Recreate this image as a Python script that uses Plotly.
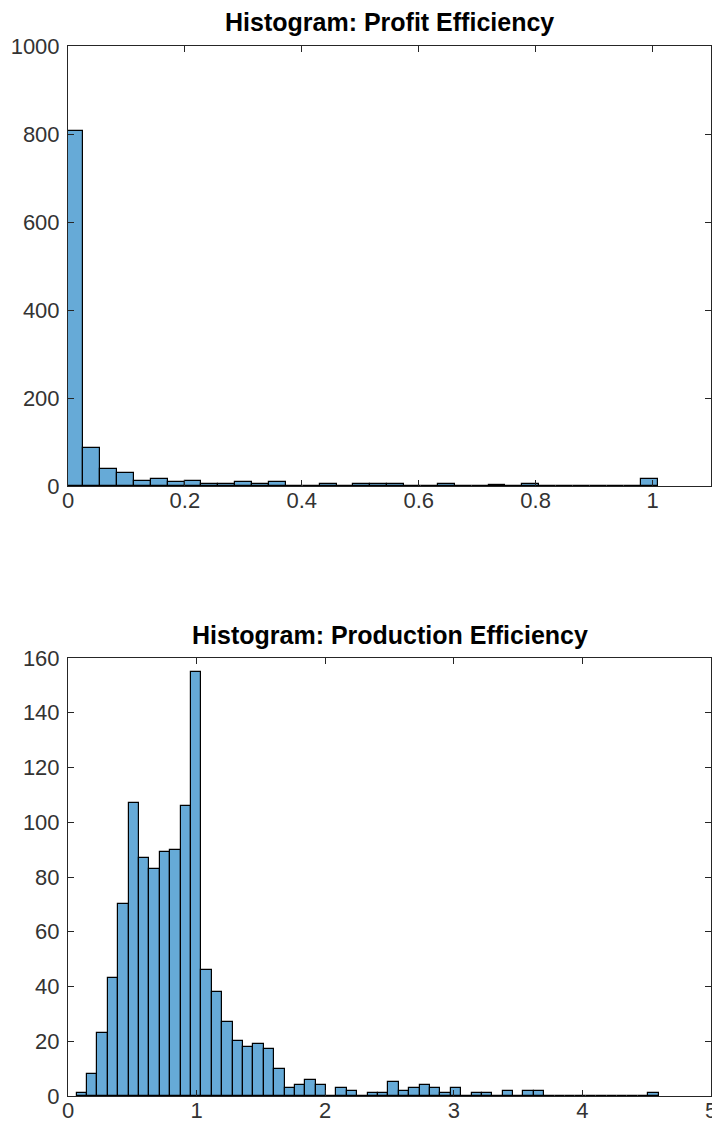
import plotly.graph_objects as go

# ---- data ----
profit_title = "Histogram: Profit Efficiency"
profit_bin_start = -0.003
profit_bin_width = 0.0289
profit_counts = [807, 87, 39, 30, 12, 16, 8, 11, 5, 4, 8, 4, 8, 1, 0, 4, 0, 4,
                 4, 4, 0, 0, 4, 0, 0, 3, 0, 4, 0, 0, 0, 0, 0, 0, 17]
profit_xticks = [0, 0.2, 0.4, 0.6, 0.8, 1]
profit_xticklabels = ["0", "0.2", "0.4", "0.6", "0.8", "1"]
profit_yticks = [0, 200, 400, 600, 800, 1000]

prod_title = "Histogram: Production Efficiency"
prod_bin_start = 0.0675
prod_bin_width = 0.0808
prod_counts = [1, 8, 23, 43, 70, 107, 87, 83, 89, 90, 106, 155, 46, 38, 27, 20,
               18, 19, 17, 10, 3, 4, 6, 4, 0, 3, 2, 0, 1, 1, 5, 2, 3, 4, 3, 1,
               3, 0, 1, 1, 0, 2, 0, 2, 2, 0, 0, 0, 0, 0, 0, 0, 0, 0, 0, 1]
prod_xticks = [0, 1, 2, 3, 4, 5]
prod_yticks = [0, 20, 40, 60, 80, 100, 120, 140, 160]

# ---- styling ----
# the page body has an 8px margin, so the figure is offset by 8px
OFF = 8
W, H = 712, 1121
BAR_FILL = "rgb(102,170,215)"
AX_COL = "#262626"
FONT = "Liberation Sans, Arial, sans-serif"


def centers(start, width, counts):
    return [start + (i + 0.5) * width for i in range(len(counts))]


fig = go.Figure()
fig.add_trace(go.Bar(
    x=centers(profit_bin_start, profit_bin_width, profit_counts),
    y=profit_counts, width=profit_bin_width,
    marker=dict(color=BAR_FILL, line=dict(color="black", width=1.2)),
    xaxis="x", yaxis="y", showlegend=False))
fig.add_trace(go.Bar(
    x=centers(prod_bin_start, prod_bin_width, prod_counts),
    y=prod_counts, width=prod_bin_width,
    marker=dict(color=BAR_FILL, line=dict(color="black", width=1.2)),
    xaxis="x2", yaxis="y2", showlegend=False))


def px_x(p):
    return (p - OFF) / W


def px_y(p):
    return 1 - (p - OFF) / H


common = dict(showline=True, linecolor=AX_COL, linewidth=1, mirror="ticks",
              ticks="inside", ticklen=6, tickcolor=AX_COL, tickwidth=1,
              showgrid=False, zeroline=False, automargin=False,
              tickfont=dict(family=FONT, size=22, color="#333333"))

fig.update_layout(
    width=W, height=H, margin=dict(l=0, r=0, t=0, b=0, pad=0),
    paper_bgcolor="white", plot_bgcolor="white", bargap=0,
    xaxis=dict(domain=[px_x(68), px_x(711)], anchor="y", range=[0, 1.1],
               tickvals=profit_xticks, ticktext=profit_xticklabels,
               ticklabelstandoff=-5, **common),
    yaxis=dict(domain=[px_y(486), px_y(46)], anchor="x", range=[0, 1000],
               tickvals=profit_yticks, ticklabelstandoff=3, **common),
    xaxis2=dict(domain=[px_x(68), px_x(711)], anchor="y2", range=[0, 5],
                tickvals=prod_xticks, ticklabelstandoff=-5, **common),
    yaxis2=dict(domain=[px_y(1096), px_y(658)], anchor="x2", range=[0, 160],
                tickvals=prod_yticks, ticklabelstandoff=3, **common),
    annotations=[
        dict(text="<b>" + profit_title + "</b>", x=(px_x(68) + px_x(711)) / 2,
             y=px_y(22), xref="paper", yref="paper", showarrow=False,
             xanchor="center", yanchor="middle",
             font=dict(family=FONT, size=25, color="black")),
        dict(text="<b>" + prod_title + "</b>", x=(px_x(68) + px_x(711)) / 2,
             y=px_y(635), xref="paper", yref="paper", showarrow=False,
             xanchor="center", yanchor="middle",
             font=dict(family=FONT, size=25, color="black")),
    ],
)

fig.write_html("out.html")
